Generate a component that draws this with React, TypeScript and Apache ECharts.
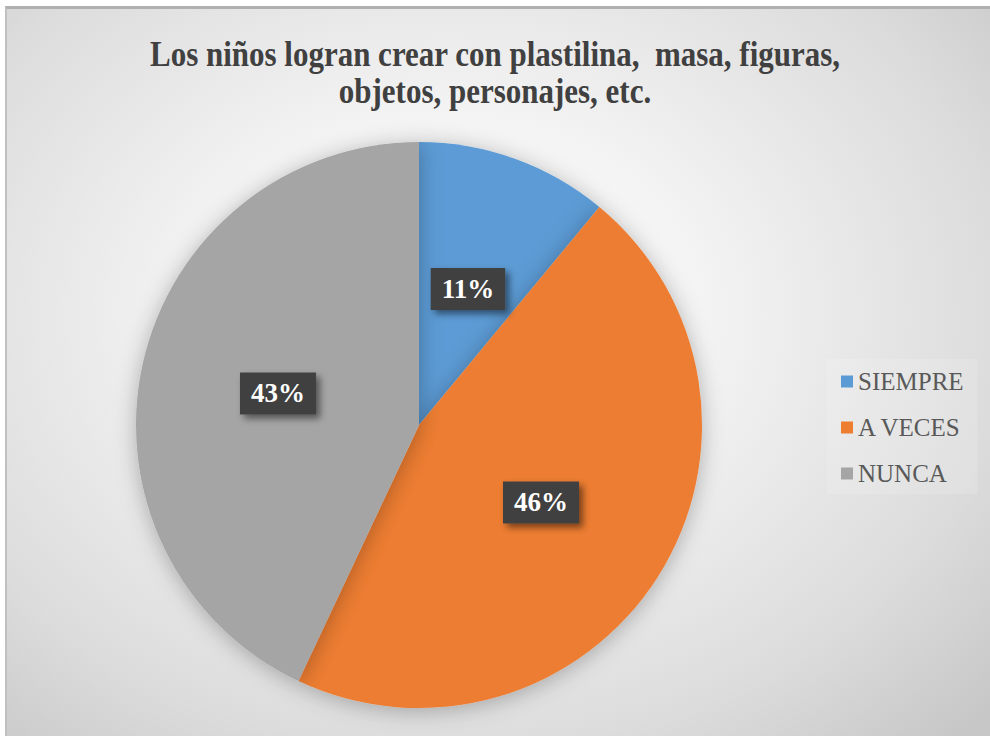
import React, { useEffect, useRef } from "react";
import * as echarts from "echarts";

const TITLE_LINES = ["Los niños logran crear con plastilina,  masa, figuras,", "objetos, personajes, etc."];
const categories = ["SIEMPRE", "A VECES", "NUNCA"];
const values = [11, 46, 43];
const colors = ["#5B9BD5", "#ED7D31", "#A5A5A5"];

export default function App() {
  const ref = useRef<HTMLDivElement>(null);
  useEffect(() => {
    if (!ref.current) return;
    const chart = echarts.init(ref.current, undefined, { renderer: "svg" });
    const serif = "Liberation Serif";
    chart.setOption({
      animation: false,
      backgroundColor: "transparent",
      graphic: TITLE_LINES.map((t, i) => ({
        type: "text",
        x: 495,
        y: 36 + i * 37,
        scaleY: 1.15,
        style: {
          text: t,
          fontFamily: serif,
          fontWeight: "bold",
          fontSize: 31,
          fill: "#404040",
          align: "center",
          verticalAlign: "top",
        },
      })),
      legend: {
        orient: "vertical",
        left: 827,
        top: 359,
        icon: "rect",
        itemWidth: 12,
        itemHeight: 12,
        itemGap: 21,
        padding: [10, 14, 8, 14],
        backgroundColor: "rgba(255,255,255,0.14)",
        textStyle: { fontFamily: serif, fontSize: 25, color: "#595959", padding: [0, 0, 0, 0] },
        data: categories,
      },
      series: [
        {
          type: "pie",
          center: [419, 425],
          radius: 283,
          startAngle: 90,
          clockwise: true,
          color: colors,
          itemStyle: {
            shadowBlur: 22,
            shadowColor: "rgba(0,0,0,0.28)",
            shadowOffsetX: 0,
            shadowOffsetY: 3,
          },
          label: {
            show: true,
            position: "inside",
            formatter: "{d}%",
            fontFamily: serif,
            fontWeight: "bold",
            fontSize: 27,
            color: "#ffffff",
            backgroundColor: "#404040",
            padding: [9, 11, 6, 11],
            shadowBlur: 7,
            shadowColor: "rgba(0,0,0,0.5)",
            shadowOffsetX: 4,
            shadowOffsetY: 4,
          },
          labelLine: { show: false },
          emphasis: { disabled: true },
          data: categories.map((c, i) => ({ name: c, value: values[i] })),
        },
      ],
    });
    return () => chart.dispose();
  }, []);
  return (
    <div
      style={{
        position: "fixed",
        left: 0,
        top: 0,
        width: 990,
        height: 736,
        background: "#ffffff",
      }}
    >
      <div
        style={{
          position: "absolute",
          left: 5,
          top: 6,
          width: 990 - 5,
          height: 736 - 6,
          boxSizing: "border-box",
          borderTop: "3px solid #b0b0b0",
          borderLeft: "2px solid #c0c0c0",
          background:
            "radial-gradient(ellipse 75% 80% at 45% 42%, #ffffff 0%, #f3f3f3 35%, #dcdcdc 75%, #c7c7c7 100%)",
        }}
      />
      <div ref={ref} style={{ position: "absolute", left: 0, top: 0, width: 990, height: 736 }} />
    </div>
  );
}
